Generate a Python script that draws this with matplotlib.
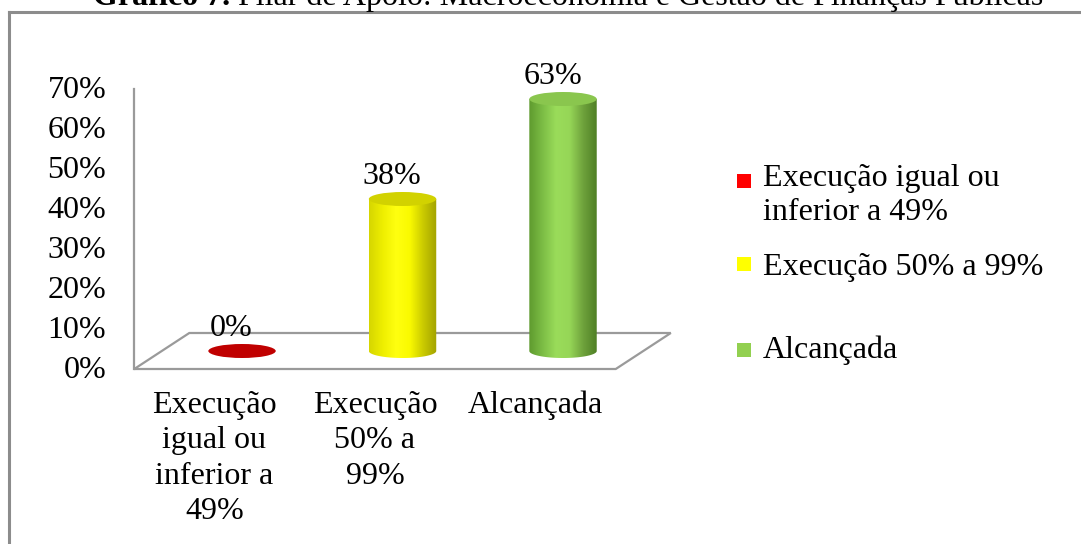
import numpy as np
import matplotlib
matplotlib.use("Agg")
import matplotlib.pyplot as plt
from matplotlib.patches import Ellipse, Polygon, Rectangle
from matplotlib.lines import Line2D
from matplotlib.colors import LinearSegmentedColormap

plt.rcParams['font.family'] = ['Liberation Serif', 'DejaVu Serif']

# data
categories = ["Execução\nigual ou\ninferior a\n49%", "Execução\n50% a\n99%", "Alcançada"]
legend_labels = ["Execução igual ou\ninferior a 49%", "Execução 50% a 99%", "Alcançada"]
values = [0, 38, 63]
y_ticks = [0, 10, 20, 30, 40, 50, 60, 70]
legend_colors = ["#FF0000", "#FFFF00", "#92D050"]
top_colors = ["#C00000", "#D2D200", "#8AC64E"]
body_stops = [
    ["#A00000", "#D00000", "#A00000"],
    ["#D6D600", "#EEEE00", "#FFFF10", "#FAFA00", "#CACA00", "#A2A200"],
    ["#5E9A2E", "#7CBD45", "#9ADC5A", "#96D657", "#6EA23C", "#4F7F25"],
]

FS = 23
W = 0.42        # cylinder width (category units)
EH = 3.5        # ellipse height (% units)
DX, DY = 0.343, 9.0   # floor depth offset

fig = plt.figure(figsize=(10.81, 5.44), dpi=100)
ax = fig.add_axes([0, 0, 1, 1])
ax.axis('off')

# floor and wall edge
n = len(values)
fl, fr = -0.5, n - 0.5
floor = Polygon([(fl, 0), (fr, 0), (fr + DX, DY), (fl + DX, DY)], closed=True,
                facecolor='white', edgecolor='#9A9A9A', lw=1.6, zorder=1)
ax.add_patch(floor)
ax.plot([fl, fl], [0, y_ticks[-1]], color='#9A9A9A', lw=1.6, zorder=1)


def cylinder(xc, base, height, stops, top_color):
    x0, x1 = xc - W / 2, xc + W / 2
    top = base + height
    if height > 0:
        theta = np.linspace(np.pi, 2 * np.pi, 60)
        bx = xc + W / 2 * np.cos(theta)
        by = base + EH / 2 * np.sin(theta)
        verts = [(x0, top)] + list(zip(bx, by)) + [(x1, top)]
        clip = Polygon(verts, closed=True, facecolor='none', edgecolor='none')
        ax.add_patch(clip)
        cmap = LinearSegmentedColormap.from_list('cyl', stops)
        grad = np.linspace(0, 1, 256).reshape(1, -1)
        im = ax.imshow(grad, cmap=cmap, extent=[x0, x1, base - EH / 2, top],
                       aspect='auto', origin='lower', zorder=3, interpolation='bilinear')
        im.set_clip_path(clip)
    ax.add_patch(Ellipse((xc, top), W, EH, facecolor=top_color,
                         edgecolor='none', zorder=4))
    return top


for i, v in enumerate(values):
    xc = i + DX / 2
    base = DY / 2
    top = cylinder(xc, base, v, body_stops[i], top_colors[i])
    ax.text(xc - 0.065, top + 5.75, f"{v}%", ha='center', va='center',
            fontsize=FS, zorder=5)

# y tick labels
for t in y_ticks:
    ax.text(-0.675, t - 0.5, f"{t}%", ha='right', va='center', fontsize=FS)

# category labels
for i, lab in enumerate(categories):
    ax.text(i, -5.4, lab, ha='center', va='top', fontsize=FS, linespacing=1.3)

# legend (manual, Excel-like spacing)
leg_text_y = [43.4, 25.5, 4.75]
leg_mark_y = [47.0, 26.3, 4.75]
for lab, col, ty, my in zip(legend_labels, legend_colors, leg_text_y, leg_mark_y):
    ax.add_patch(Rectangle((3.255, my - 1.75), 0.087, 3.5, facecolor=col,
                           edgecolor='none'))
    ax.text(3.417, ty, lab, ha='left', va='center', fontsize=FS, linespacing=1.2)

ax.set_xlim((0 - 214.5) / 160.5, (1081 - 214.5) / 160.5)
ax.set_ylim((369 - 544) / 4, 369 / 4)

# chart frame (left and top edges visible)
fx, fy = 9 / 1081, 1 - 12 / 544
fig.add_artist(Line2D([fx, fx], [0, fy], color='#8C8C8C', lw=2.2, transform=fig.transFigure))
fig.add_artist(Line2D([fx, 1], [fy, fy], color='#8C8C8C', lw=2.2, transform=fig.transFigure))

# cut-off title, as in the reference
renderer = fig.canvas.get_renderer()
t1 = fig.text(93 / 1081, 1 - 5 / 544, "Gráfico 7.", fontsize=FS, fontweight='bold',
              va='baseline', ha='left')
bb = t1.get_window_extent(renderer)
fig.text(bb.x1 / 1081, 1 - 5 / 544, " Pilar de Apoio: Macroeconomia e Gestão de Finanças Públicas",
         fontsize=FS, va='baseline', ha='left')

fig.savefig("out.png", dpi=100)
